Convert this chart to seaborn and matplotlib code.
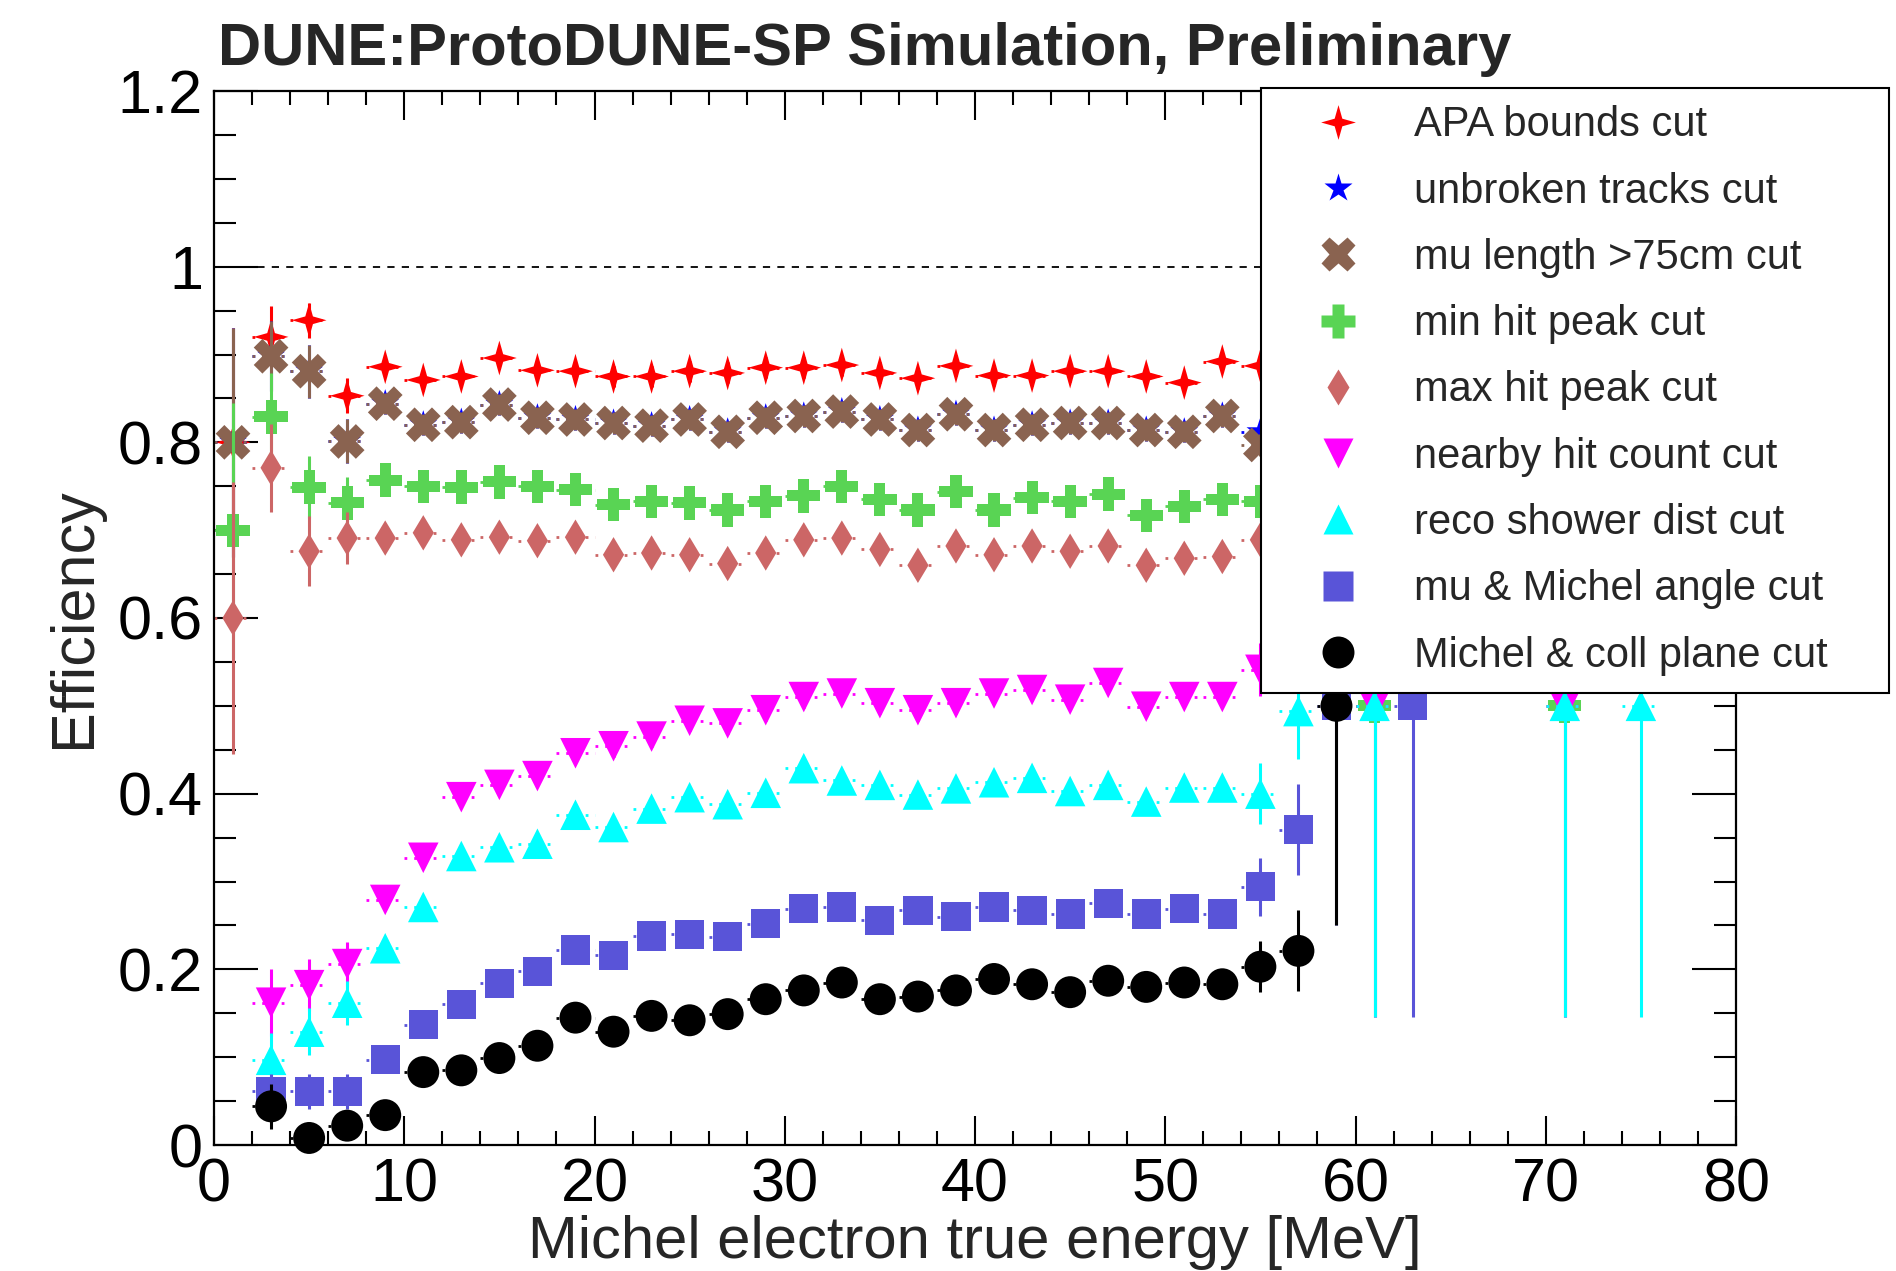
import numpy as np
import pandas as pd
import matplotlib
matplotlib.use("Agg")
import matplotlib.pyplot as plt
from matplotlib.lines import Line2D
from matplotlib.path import Path
from matplotlib.ticker import MultipleLocator, FuncFormatter
import seaborn as sns

# ---------------- data (bin centres in MeV, 2 MeV bins) ----------------
E_main = list(range(1, 57, 2))          # 1 ... 55

apa_y = [0.80, 0.92, 0.939, 0.853, 0.886, 0.871, 0.875, 0.896, 0.882, 0.881,
         0.875, 0.875, 0.881, 0.879, 0.885, 0.885, 0.888, 0.879, 0.873, 0.887,
         0.876, 0.876, 0.881, 0.881, 0.875, 0.868, 0.892, 0.887]
unbroken_y = [0.80, 0.898, 0.881, 0.801, 0.844, 0.820, 0.823, 0.843, 0.828, 0.826,
              0.822, 0.819, 0.826, 0.812, 0.828, 0.830, 0.835, 0.826, 0.814, 0.832,
              0.814, 0.820, 0.822, 0.822, 0.814, 0.812, 0.830, 0.812]
mulen_y = [0.80, 0.898, 0.881, 0.801, 0.844, 0.820, 0.823, 0.843, 0.828, 0.826,
           0.822, 0.819, 0.826, 0.812, 0.828, 0.830, 0.835, 0.826, 0.814, 0.832,
           0.814, 0.820, 0.822, 0.822, 0.814, 0.812, 0.830, 0.797]
minhit_x = E_main + [61, 71]
minhit_y = [0.700, 0.829, 0.749, 0.731, 0.757, 0.750, 0.749, 0.755, 0.750, 0.746,
            0.729, 0.733, 0.731, 0.723, 0.733, 0.739, 0.750, 0.735, 0.723, 0.744,
            0.723, 0.737, 0.733, 0.741, 0.717, 0.727, 0.735, 0.733, 0.5, 0.5]
maxhit_y = [0.600, 0.771, 0.676, 0.691, 0.691, 0.697, 0.689, 0.692, 0.688, 0.692,
            0.672, 0.674, 0.672, 0.662, 0.674, 0.689, 0.691, 0.678, 0.660, 0.682,
            0.672, 0.682, 0.676, 0.682, 0.660, 0.668, 0.670, 0.689]
nearby_x = list(range(3, 57, 2)) + [61, 71]
nearby_y = [0.162, 0.182, 0.206, 0.279, 0.327, 0.396, 0.410, 0.420, 0.446, 0.454,
            0.465, 0.483, 0.480, 0.495, 0.510, 0.514, 0.503, 0.495, 0.503, 0.514,
            0.518, 0.507, 0.526, 0.499, 0.510, 0.510, 0.541, 0.5, 0.5]
shower_x = list(range(3, 59, 2)) + [61, 71, 75]
shower_y = [0.097, 0.129, 0.162, 0.224, 0.271, 0.329, 0.339, 0.343, 0.376, 0.362,
            0.383, 0.396, 0.388, 0.401, 0.429, 0.415, 0.410, 0.399, 0.406, 0.413,
            0.418, 0.403, 0.410, 0.391, 0.407, 0.407, 0.400, 0.494, 0.5, 0.5, 0.5]
angle_x = list(range(3, 59, 2)) + [59, 63]
angle_y = [0.061, 0.061, 0.061, 0.097, 0.137, 0.160, 0.184, 0.198, 0.222, 0.216,
           0.238, 0.240, 0.237, 0.252, 0.269, 0.271, 0.256, 0.267, 0.260, 0.271,
           0.267, 0.263, 0.275, 0.263, 0.269, 0.263, 0.294, 0.359, 0.5, 0.5]
coll_x = list(range(3, 61, 2))
coll_y = [0.044, 0.008, 0.022, 0.034, 0.083, 0.085, 0.099, 0.113, 0.145, 0.129,
          0.147, 0.142, 0.149, 0.166, 0.176, 0.185, 0.166, 0.169, 0.176, 0.189,
          0.183, 0.174, 0.187, 0.180, 0.185, 0.183, 0.203, 0.221, 0.5]

# vertical (binomial) errors; other bins ~0.012
ERR_DEFAULT = 0.012
apa_err = {1: 0.13, 3: 0.035, 5: 0.02, 7: 0.02}
unbroken_err = {1: 0.13, 3: 0.04, 5: 0.03, 7: 0.025}
mulen_err = {1: 0.13, 3: 0.04, 5: 0.03, 7: 0.025}
minhit_err = {1: 0.145, 3: 0.05, 5: 0.035, 7: 0.03, 61: 0.354, 71: 0.354}
maxhit_err = {1: 0.155, 3: 0.05, 5: 0.04, 7: 0.03}
nearby_err = {3: 0.038, 5: 0.03, 7: 0.025, 55: 0.03, 61: 0.354, 71: 0.354}
shower_err = {3: 0.03, 5: 0.027, 7: 0.025, 55: 0.035, 57: 0.055,
              61: 0.354, 71: 0.354, 75: 0.354}
angle_err = {3: 0.02, 5: 0.02, 7: 0.02, 55: 0.033, 57: 0.052, 59: 0.25, 63: 0.354}
coll_err = {3: 0.026, 5: 0.012, 7: 0.015, 55: 0.029, 57: 0.046, 59: 0.25}

labels = ["APA bounds cut", "unbroken tracks cut", "mu length >75cm cut",
          "min hit peak cut", "max hit peak cut", "nearby hit count cut",
          "reco shower dist cut", "mu & Michel angle cut", "Michel & coll plane cut"]

# ---------------- styling ----------------
star4 = Path([(0, 1), (0.22, 0.22), (1, 0), (0.22, -0.22), (0, -1),
              (-0.22, -0.22), (-1, 0), (-0.22, 0.22), (0, 1)],
             [Path.MOVETO] + [Path.LINETO] * 7 + [Path.CLOSEPOLY])

series = [
    (labels[0], E_main, apa_y, apa_err, "#ff0000", star4, 25),
    (labels[1], E_main, unbroken_y, unbroken_err, "#0000ff", "*", 21),
    (labels[2], E_main, mulen_y, mulen_err, "#8a6350", "X", 25),
    (labels[3], minhit_x, minhit_y, minhit_err, "#59d454", "P", 24),
    (labels[4], E_main, maxhit_y, maxhit_err, "#cc6666", "d", 18),
    (labels[5], nearby_x, nearby_y, nearby_err, "#ff00ff", "v", 22),
    (labels[6], shower_x, shower_y, shower_err, "#00ffff", "^", 22),
    (labels[7], angle_x, angle_y, angle_err, "#5954d8", "s", 21),
    (labels[8], coll_x, coll_y, coll_err, "#000000", "o", 23),
]

sns.set_theme(style="ticks")
plt.rcParams["font.family"] = ["Liberation Sans", "DejaVu Sans"]

W, H = 1896, 1271
fig = plt.figure(figsize=(W / 100, H / 100), dpi=100)
L, R, T, B = 214, 1736, 91, 1145
ax = fig.add_axes([L / W, 1 - B / H, (R - L) / W, (B - T) / H])
ax.set_facecolor("white")

ax.axhline(1.0, color="black", lw=1.3, ls=(0, (4, 4)), zorder=1)

handles = []
for i, (lab, xs, ys, errd, col, mk, ms) in enumerate(series):
    yerr = [errd.get(x, ERR_DEFAULT) for x in xs]
    z = 2 + i * 0.1
    cont = ax.errorbar(xs, ys, yerr=yerr, xerr=1.0, fmt="none", ecolor=col,
                       elinewidth=2.2, capsize=0, zorder=z)
    xcol, ycol = cont.lines[2]
    xcol.set_linestyle((0, (1, 2.5)))
    xcol.set_linewidth(2.0)
    df = pd.DataFrame({"E": xs, "eff": ys})
    sns.scatterplot(data=df, x="E", y="eff", ax=ax, marker=mk, s=ms ** 2,
                    color=col, edgecolor="none", linewidth=0, zorder=z + 0.05,
                    clip_on=False, legend=False)
    handles.append(Line2D([], [], ls="none", marker=mk, color=col,
                          markeredgecolor="none", markersize=ms))

ax.set_xlim(0, 80)
ax.set_ylim(0, 1.2)
ax.xaxis.set_major_locator(MultipleLocator(10))
ax.xaxis.set_minor_locator(MultipleLocator(2))
ax.yaxis.set_major_locator(MultipleLocator(0.2))
ax.yaxis.set_minor_locator(MultipleLocator(0.05))
fmt = FuncFormatter(lambda v, p: f"{v:g}")
ax.xaxis.set_major_formatter(fmt)
ax.yaxis.set_major_formatter(fmt)

ax.tick_params(axis="both", which="both", direction="in", top=True, right=True,
               colors="black", width=1.5)
ax.tick_params(axis="x", which="major", length=21, pad=9, labelsize=44)
ax.tick_params(axis="x", which="minor", length=10)
ax.tick_params(axis="y", which="major", length=32, pad=8, labelsize=44)
ax.tick_params(axis="y", which="minor", length=16)
for sp in ax.spines.values():
    sp.set_visible(True)
    sp.set_color("black")
    sp.set_linewidth(1.6)

ax.set_xlabel("Michel electron true energy [MeV]", fontsize=43)
ax.set_ylabel("Efficiency", fontsize=44)
ax.xaxis.set_label_coords(0.5, -0.066)
ax.yaxis.set_label_coords(-0.073, 0.5)

fig.text(218 / W, 1 - 65 / H, "DUNE:ProtoDUNE-SP Simulation, Preliminary",
         fontsize=43, fontweight="bold", ha="left", va="baseline")

leg = ax.legend(handles, labels, loc="upper left",
                bbox_to_anchor=(1261 / W, 1 - 699 / H, 628 / W, 611 / H),
                bbox_transform=fig.transFigure, mode="expand",
                borderaxespad=0, borderpad=0.42, labelspacing=0.63,
                handlelength=2.86, handletextpad=0.38, fontsize=30,
                frameon=True, fancybox=False, framealpha=1, edgecolor="black")
leg.get_frame().set_linewidth(1.5)
leg.set_zorder(10)

fig.savefig("out.png", dpi=100, facecolor="white")
